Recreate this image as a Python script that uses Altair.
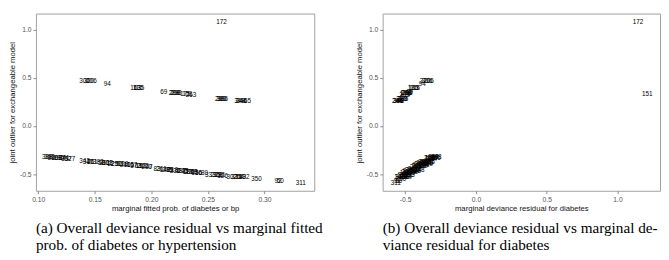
import altair as alt
import pandas as pd

# observation ids (text labels)
ids = [172, 151,
       306, 320, 206, 94, 163, 135, 116, 69, 288, 208, 298, 175, 263, 289, 380, 386, 348, 346, 65, 244,
       388, 383, 396, 199, 190, 87, 341, 357, 327,
       342, 347, 36, 211, 382, 58, 391, 301, 13, 229, 250, 53, 128, 241, 105, 167, 372, 19, 162, 322, 200, 47,
       83, 261, 148, 275, 99, 218, 336, 7, 187, 245, 29, 113, 270, 309, 63, 156, 56, 80,
       333, 233, 358, 281, 126, 302, 375, 264, 143, 192, 350, 92, 50, 311]
# joint outlier for exchangeable model (y, both panels)
joint = [1.077, 0.330,
         0.468, 0.466, 0.470, 0.437, 0.392, 0.390, 0.393, 0.355, 0.337, 0.336, 0.338, 0.327, 0.325, 0.280, 0.279, 0.281, 0.257, 0.256, 0.255, 0.258,
         -0.325, -0.327, -0.330, -0.332, -0.334, -0.336, -0.338, -0.340, -0.343,
         -0.368, -0.370, -0.372, -0.374, -0.378, -0.381, -0.383, -0.385, -0.388, -0.392, -0.395, -0.397, -0.400, -0.402, -0.405, -0.408, -0.411, -0.414, -0.417, -0.420, -0.423, -0.426,
         -0.448, -0.452, -0.455, -0.457, -0.459, -0.461, -0.463, -0.466, -0.468, -0.470, -0.472, -0.475, -0.477, -0.480, -0.483, -0.486, -0.487, -0.489,
         -0.505, -0.508, -0.511, -0.513, -0.515, -0.525, -0.527, -0.529, -0.531, -0.533, -0.548, -0.573, -0.575, -0.595]
# marginal fitted prob. of diabetes or bp (x, panel a)
fitted = [0.262, 0.232,
          0.141, 0.145, 0.147, 0.161, 0.186, 0.189, 0.188, 0.211, 0.220, 0.221, 0.222, 0.230, 0.235, 0.261, 0.262, 0.263, 0.278, 0.280, 0.285, 0.279,
          0.108, 0.110, 0.113, 0.116, 0.118, 0.121, 0.123, 0.125, 0.128,
          0.141, 0.144, 0.146, 0.148, 0.153, 0.156, 0.159, 0.161, 0.163, 0.166, 0.169, 0.172, 0.175, 0.177, 0.180, 0.183, 0.186, 0.189, 0.191, 0.193, 0.196, 0.198,
          0.205, 0.209, 0.212, 0.214, 0.216, 0.219, 0.221, 0.224, 0.226, 0.228, 0.230, 0.232, 0.234, 0.236, 0.238, 0.240, 0.242, 0.247,
          0.252, 0.257, 0.259, 0.261, 0.263, 0.271, 0.275, 0.277, 0.279, 0.282, 0.293, 0.312, 0.314, 0.332]
# marginal deviance residual for diabetes (x, panel b)
devres = [1.145, 1.210,
          -0.345, -0.360, -0.335, -0.380, -0.440, -0.445, -0.430, -0.470, -0.490, -0.485, -0.495, -0.500, -0.505, -0.520, -0.525, -0.515, -0.545, -0.550, -0.540, -0.555,
          -0.280, -0.300, -0.285, -0.310, -0.325, -0.290, -0.330, -0.305, -0.320,
          -0.330, -0.360, -0.315, -0.350, -0.370, -0.330, -0.385, -0.350, -0.375, -0.340, -0.395, -0.355, -0.400, -0.365, -0.410, -0.370, -0.415, -0.375, -0.420, -0.380, -0.430, -0.385,
          -0.410, -0.445, -0.400, -0.455, -0.420, -0.465, -0.425, -0.470, -0.430, -0.480, -0.440, -0.485, -0.445, -0.490, -0.450, -0.500, -0.455, -0.475,
          -0.470, -0.500, -0.515, -0.480, -0.520, -0.500, -0.535, -0.490, -0.540, -0.510, -0.530, -0.555, -0.545, -0.566]

caption_a = ["(a) Overall deviance residual vs marginal fitted", "prob. of diabetes or hypertension"]
caption_b = ["(b) Overall deviance residual vs marginal de-", "viance residual for diabetes"]

df = pd.DataFrame({"id": [str(i) for i in ids], "joint": joint, "fitted": fitted, "devres": devres})

minus_fix = "replace(datum.label, '\u2212', '-')"

yenc = alt.Y("joint:Q", scale=alt.Scale(domain=[-0.672, 1.165], nice=False, zero=False),
             axis=alt.Axis(values=[-0.5, 0.0, 0.5, 1.0], format=".1f", labelExpr=minus_fix,
                           title="joint outlier for exchangeable model"))

def cap(lines):
    return alt.TitleParams(text=lines, orient="bottom", anchor="start", frame="group",
                           font="Liberation Serif", fontSize=15.8, fontWeight="normal",
                           color="black", offset=9, lineHeight=17)

txt = dict(font="Liberation Sans", fontSize=6.6, color="#000000")

left = alt.Chart(df).mark_text(**txt).encode(
    x=alt.X("fitted:Q", scale=alt.Scale(domain=[0.098, 0.344], nice=False, zero=False),
            axis=alt.Axis(values=[0.10, 0.15, 0.20, 0.25, 0.30], format=".2f",
                          title="marginal fitted prob. of diabetes or bp")),
    y=yenc,
    text="id:N",
).properties(width=289, height=184, title=cap(caption_a))

right = alt.Chart(df).mark_text(**txt).encode(
    x=alt.X("devres:Q", scale=alt.Scale(domain=[-0.659, 1.30], nice=False, zero=False),
            axis=alt.Axis(values=[-0.5, 0.0, 0.5, 1.0], format=".1f", labelExpr=minus_fix,
                          title="marginal deviance residual for diabetes")),
    y=yenc,
    text="id:N",
).properties(width=288, height=184, title=cap(caption_b))

chart = alt.hconcat(left, right, spacing=32).configure_view(
    stroke="#9e9e9e", strokeWidth=1
).configure_axis(
    domain=False, grid=False, ticks=True, tickSize=3, tickColor="#8a8a8a",
    labelFont="Liberation Sans", labelFontSize=7, labelColor="#555555", labelPadding=2,
    titleFont="Liberation Sans", titleFontSize=8, titleFontWeight="normal", titleColor="#111111",
    titlePadding=3,
).properties(padding={"left": 0, "top": 0, "right": 0, "bottom": 0})

chart.save("out.html", embed_options={"renderer": "svg", "actions": False})
